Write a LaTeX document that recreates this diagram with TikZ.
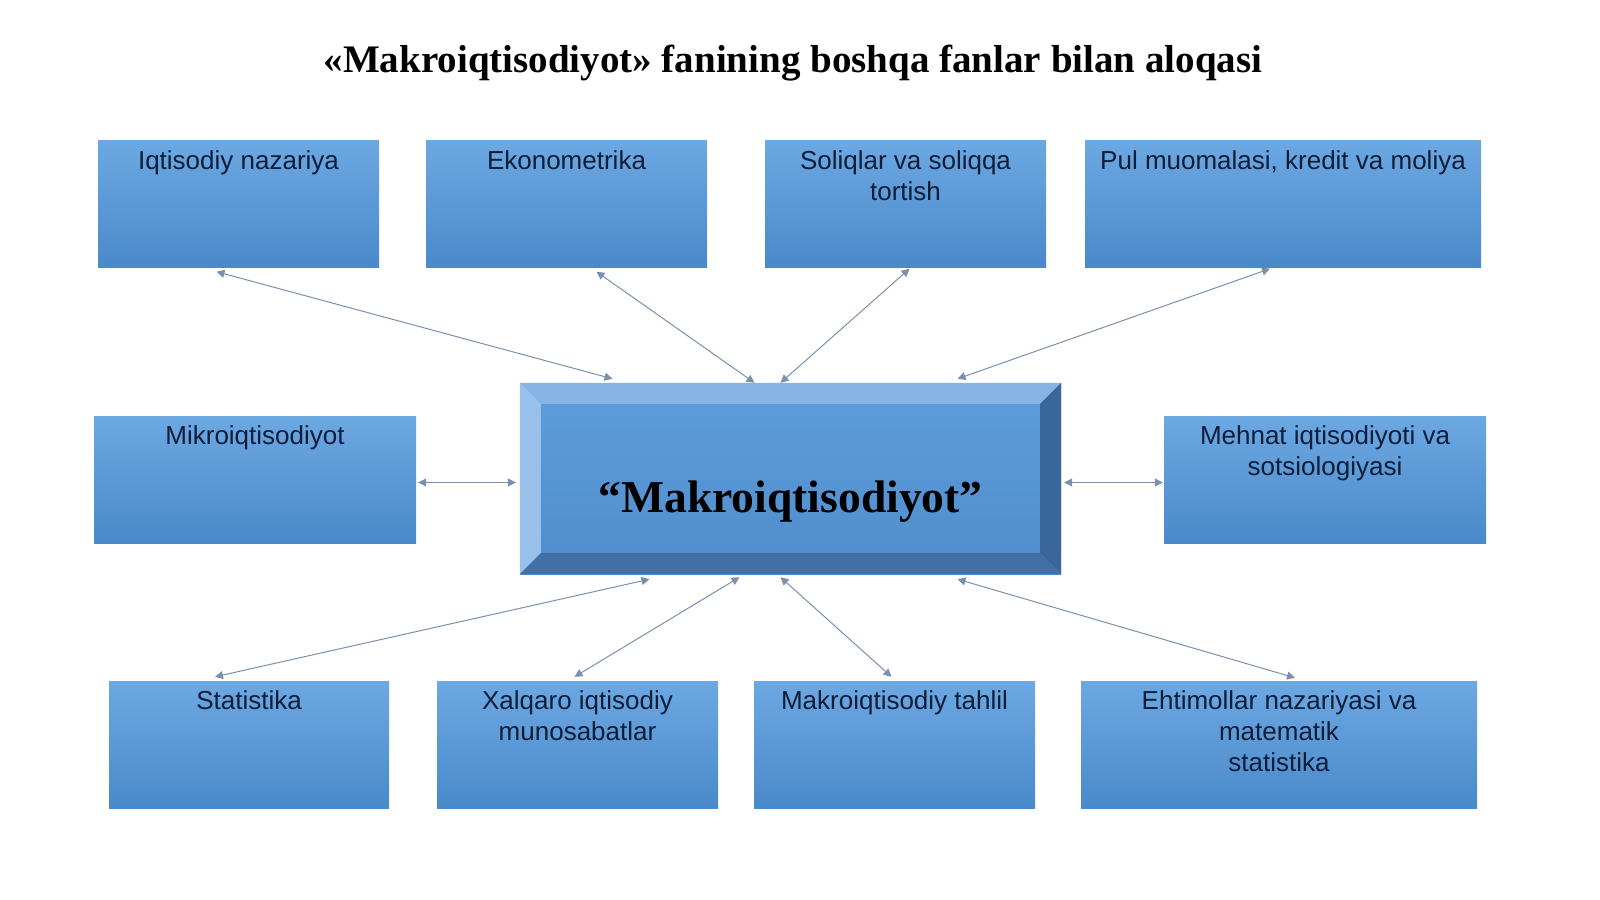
\documentclass[tikz,border=0pt]{standalone}
\usepackage{fontspec}
\setmainfont{Liberation Serif}
\newfontfamily\boxfont{Liberation Sans}
\usetikzlibrary{arrows.meta}

\definecolor{boxtop}{HTML}{6CA8E2}
\definecolor{boxbot}{HTML}{4A89CA}
\definecolor{facetop}{HTML}{5E9DDA}
\definecolor{facebot}{HTML}{4F8DCD}
\definecolor{bevtop}{HTML}{86B5E5}
\definecolor{bevleft}{HTML}{97C1EB}
\definecolor{bevright}{HTML}{3A679B}
\definecolor{bevbot}{HTML}{4070A6}
\definecolor{txt}{HTML}{0E1D38}
\definecolor{linkcol}{HTML}{7A90AE}

\tikzset{
    box/.style={rectangle, top color=boxtop, bottom color=boxbot, minimum height=127pt, inner sep=0pt},
    boxtxt/.style={anchor=north, font=\boxfont\fontsize{26}{31}\selectfont, text=txt, align=center, inner xsep=7pt, inner ysep=10pt},
    link/.style={{Triangle[length=8pt,width=8pt]}-{Triangle[length=8pt,width=8pt]}, draw=linkcol, line width=1pt}
}

\begin{document}
\begin{tikzpicture}[x=1pt,y=-1pt]
    \useasboundingbox (0,0) rectangle (1600,899);
    \node[anchor=base, font=\bfseries\fontsize{39}{44}\selectfont] (title) at (793,72)
        {«Makroiqtisodiyot» fanining boshqa fanlar bilan aloqasi};

    % top row
    \node[box, minimum width=281pt, label={[boxtxt]north:Iqtisodiy nazariya}] (a) at (238.5,204) {};
    \node[box, minimum width=281pt, label={[boxtxt]north:Ekonometrika}] (b) at (566.5,204) {};
    \node[box, minimum width=281pt, label={[boxtxt]north:Soliqlar va soliqqa\\tortish}] (c) at (905.5,204) {};
    \node[box, minimum width=396pt, label={[boxtxt]north:Pul muomalasi, kredit va moliya}] (d) at (1283,204) {};
    % middle row
    \node[box, minimum width=322pt, label={[boxtxt]north:Mikroiqtisodiyot}] (e) at (255,479.5) {};
    \node[box, minimum width=322pt, label={[boxtxt]north:Mehnat iqtisodiyoti va\\sotsiologiyasi}] (f) at (1325,479.5) {};
    % bottom row
    \node[box, minimum width=280pt, label={[boxtxt]north:Statistika}] (g) at (249,744.5) {};
    \node[box, minimum width=281pt, label={[boxtxt]north:Xalqaro iqtisodiy\\munosabatlar}] (h) at (577.5,744.5) {};
    \node[box, minimum width=281pt, label={[boxtxt]north:Makroiqtisodiy tahlil}] (i) at (894.5,744.5) {};
    \node[box, minimum width=396pt, label={[boxtxt]north:Ehtimollar nazariyasi va\\matematik\\statistika}] (j) at (1279,744.5) {};

    % central box with bevel
    \node[rectangle, top color=facetop, bottom color=facebot, minimum width=541pt, minimum height=191pt, inner sep=0pt] (m) at (790.5,478.5) {};
    \fill[bevtop] (m.north west) -- (m.north east) -- ([shift={(-21pt,-21pt)}]m.north east) -- ([shift={(21pt,-21pt)}]m.north west) -- cycle;
    \fill[bevleft] (m.north west) -- ([shift={(21pt,-21pt)}]m.north west) -- ([shift={(21pt,21pt)}]m.south west) -- (m.south west) -- cycle;
    \fill[bevright] (m.north east) -- (m.south east) -- ([shift={(-21pt,21pt)}]m.south east) -- ([shift={(-21pt,-21pt)}]m.north east) -- cycle;
    \fill[bevbot] (m.south west) -- ([shift={(21pt,21pt)}]m.south west) -- ([shift={(-21pt,21pt)}]m.south east) -- (m.south east) -- cycle;
    \node[anchor=base, font=\bfseries\fontsize{45.6}{50}\selectfont] (mt) at (790.5,512) {“Makroiqtisodiyot”};

    \draw[link] ([shift={(-22pt,-4pt)}]a.south) -- ([shift={(-178pt,4pt)}]m.north);
    \draw[link] ([shift={(30pt,-4pt)}]b.south) -- ([shift={(-36pt,0pt)}]m.north);
    \draw[link] ([shift={(4pt,-1pt)}]c.south) -- ([shift={(-10pt,0pt)}]m.north);
    \draw[link] ([shift={(-13pt,-1pt)}]d.south) -- ([shift={(167pt,4pt)}]m.north);
    \draw[link] ([shift={(2pt,-3pt)}]e.east) -- ([shift={(-4pt,-4pt)}]m.west);
    \draw[link] ([shift={(3pt,-4pt)}]m.east) -- ([shift={(-1pt,-3pt)}]f.west);
    \draw[link] ([shift={(-34pt,4pt)}]g.north) -- ([shift={(-141pt,-5pt)}]m.south);
    \draw[link] ([shift={(-3pt,4pt)}]h.north) -- ([shift={(-51pt,-3pt)}]m.south);
    \draw[link] ([shift={(-3pt,4pt)}]i.north) -- ([shift={(-10pt,-3pt)}]m.south);
    \draw[link] ([shift={(16pt,3pt)}]j.north) -- ([shift={(167pt,-5pt)}]m.south);
\end{tikzpicture}
\end{document}
